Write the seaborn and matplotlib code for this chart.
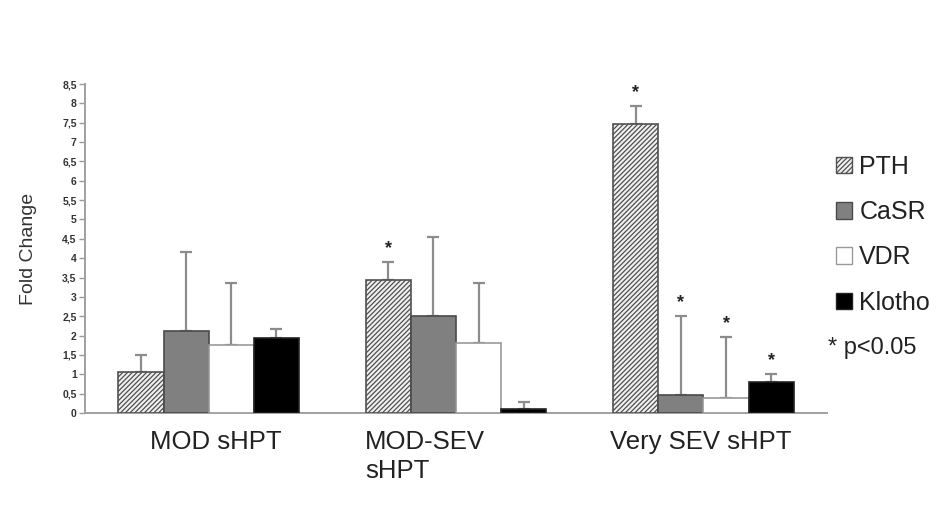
import matplotlib
matplotlib.use("Agg")
import matplotlib.pyplot as plt
import matplotlib.patches as mpatches
import matplotlib.transforms as mtransforms
import seaborn as sns
import pandas as pd

# Groups, genes and measured values
groups = ["MOD sHPT", "MOD-SEV\nsHPT", "Very SEV sHPT"]
genes = ["PTH", "CaSR", "VDR", "Klotho"]
pth = [1.05, 3.44, 7.46]
casr = [2.12, 2.51, 0.47]
vdr = [1.76, 1.81, 0.39]
klotho = [1.95, 0.10, 0.80]
# upper error (SD) ends
pth_err = [1.50, 3.91, 7.93]
casr_err = [4.17, 4.56, 2.51]
vdr_err = [3.36, 3.37, 1.97]
klotho_err = [2.16, 0.28, 1.01]
# significance marks (p<0.05)
pth_sig = [False, True, True]
casr_sig = [False, False, True]
vdr_sig = [False, False, True]
klotho_sig = [False, False, True]
ytick_vals = [0, 0.5, 1, 1.5, 2, 2.5, 3, 3.5, 4, 4.5, 5, 5.5, 6, 6.5, 7, 7.5, 8, 8.5]
ytick_labels = ["0", "0,5", "1", "1,5", "2", "2,5", "3", "3,5", "4", "4,5",
                "5", "5,5", "6", "6,5", "7", "7,5", "8", "8,5"]

values = [pth, casr, vdr, klotho]
tops = [pth_err, casr_err, vdr_err, klotho_err]
sigs = [pth_sig, casr_sig, vdr_sig, klotho_sig]

df = pd.DataFrame({
    "group": [g for _ in genes for g in groups],
    "gene": [gn for gn in genes for _ in groups],
    "value": [v for vals in values for v in vals],
})

sns.set_theme(style="white")
plt.rcParams["font.family"] = ["Liberation Sans", "DejaVu Sans"]
plt.rcParams["hatch.linewidth"] = 0.9

fills = {"PTH": "#f0f0f0", "CaSR": "#808080", "VDR": "#ffffff", "Klotho": "#000000"}
edges = {"PTH": "#505050", "CaSR": "#4a4a4a", "VDR": "#9a9a9a", "Klotho": "#222222"}
HATCH = "///////"

fig = plt.figure(figsize=(9.41, 5.25), dpi=100)
ax = fig.add_axes([0.0903, 0.2133, 0.7887, 0.6267])

sns.barplot(data=df, x="group", y="value", hue="gene", order=groups,
            hue_order=genes, palette=fills, width=0.73, errorbar=None,
            saturation=1, ax=ax, legend=False, zorder=3)

for gi, (gene, cont) in enumerate(zip(genes, ax.containers)):
    for bi, bar in enumerate(cont):
        bar.set_edgecolor(edges[gene])
        bar.set_linewidth(1.2)
        if gene == "PTH":
            bar.set_hatch(HATCH)
        xc = bar.get_x() + bar.get_width() / 2
        h = values[gi][bi]
        up = tops[gi][bi] - h
        ax.errorbar(xc, h, yerr=[[0], [up]], fmt="none", ecolor="#8c8c8c",
                    elinewidth=1.6, capsize=4, capthick=1.6, zorder=2)
        if sigs[gi][bi]:
            ax.text(xc, tops[gi][bi] + 0.12, "*", ha="center", va="bottom",
                    fontsize=13, fontweight="bold", color="#222222")

ax.set_xlim(-0.5, 2.5)
ax.set_ylim(0, 8.5)
ax.set_yticks(ytick_vals)
ax.set_yticklabels(ytick_labels, fontsize=7.5, fontweight="bold", color="#333333")
ax.set_ylabel("Fold Change", fontsize=14, color="#333333", labelpad=18)
ax.set_xlabel("")
ax.tick_params(axis="y", direction="out", length=4, width=1, color="#999999",
               left=True, pad=2)

# group names under the axis, left-aligned lines for the two-line name
ax.set_xticks(range(len(groups)))
ax.set_xticklabels([])
ax.tick_params(axis="x", length=0)
label_shift_px = [7, -31, -3]
base = mtransforms.blended_transform_factory(ax.transData, ax.transAxes)
for i, name in enumerate(groups):
    off = mtransforms.ScaledTranslation(label_shift_px[i] / 100, -17 / 100,
                                        fig.dpi_scale_trans)
    ax.text(i, 0, name, transform=base + off, ha="center", va="top",
            multialignment="left", fontsize=18.5, color="#222222",
            linespacing=1.25)

sns.despine(ax=ax)
for side in ("left", "bottom"):
    ax.spines[side].set_color("#a0a0a0")
    ax.spines[side].set_linewidth(1.4)

handles = [mpatches.Patch(facecolor=fills[g], edgecolor=edges[g],
                          hatch=HATCH if g == "PTH" else None, linewidth=1)
           for g in genes]
fig.legend(handles, genes, loc="upper left", bbox_to_anchor=(0.888, 0.705),
           frameon=False, fontsize=18, handlelength=0.65, handleheight=0.65,
           handletextpad=0.3, labelspacing=0.85, borderpad=0, borderaxespad=0,
           labelcolor="#222222")
fig.text(0.880, 0.337, "* p<0.05", fontsize=17, color="#222222",
         ha="left", va="center")

fig.savefig("out.png", dpi=100, facecolor="white")
